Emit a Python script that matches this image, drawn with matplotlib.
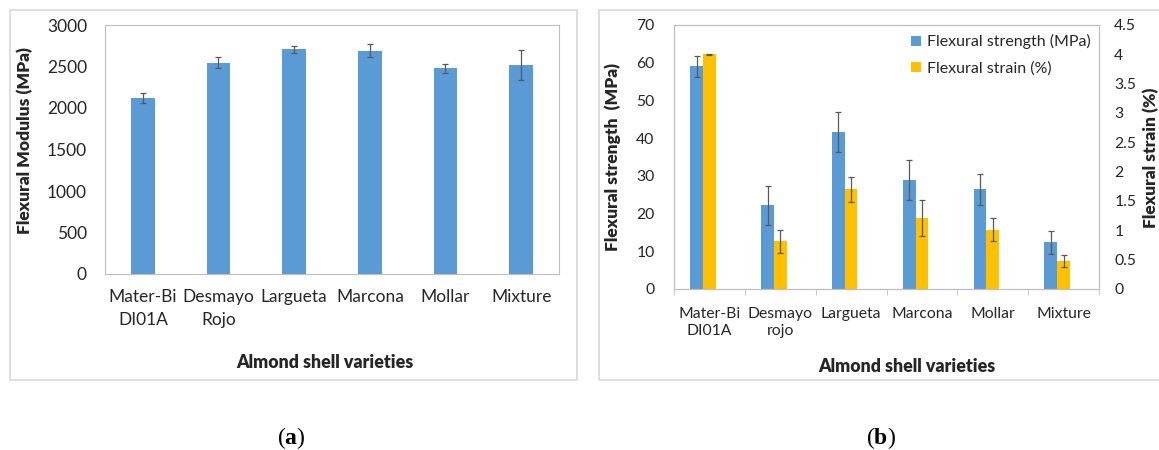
import numpy as np
import matplotlib
matplotlib.use("Agg")
import matplotlib.pyplot as plt
from matplotlib.patches import Rectangle

plt.rcParams["font.family"] = ["Lato", "DejaVu Sans"]
plt.rcParams["mathtext.fontset"] = "custom"
plt.rcParams["mathtext.bf"] = "Liberation Serif:bold"

# (a) flexural modulus per variety
modulus_labels = ["Mater-Bi\nDI01A", "Desmayo\nRojo", "Largueta", "Marcona", "Mollar", "Mixture"]
modulus = [2126, 2547, 2707, 2691, 2479, 2519]
modulus_err = [60, 66, 44, 78, 56, 184]

# (b) flexural strength and strain per variety
strength_labels = ["Mater-Bi\nDI01A", "Desmayo\nrojo", "Largueta", "Marcona", "Mollar", "Mixture"]
strength = [59.1, 22.2, 41.6, 28.9, 26.5, 12.4]
strength_err = [2.8, 5.1, 5.3, 5.3, 4.1, 3.0]
strain = [4.0, 0.81, 1.70, 1.21, 1.01, 0.48]
strain_err = [0.01, 0.20, 0.21, 0.30, 0.20, 0.10]

BLUE = "#5B9BD5"
GOLD = "#FFC000"
ERR = "#595959"
SPINE = "#BFBFBF"
FRAME = "#D9D9D9"
TXT = "#262626"
LABEL_W = "heavy"

fig = plt.figure(figsize=(11.59, 4.5), dpi=100)
W, H = 1159, 450


def fx(px):
    return px / W


def fy(py):
    return 1 - py / H


# chart frames
fig.patches.append(Rectangle((fx(10), fy(380)), fx(567), fy(10) - fy(380),
                             transform=fig.transFigure, fill=False,
                             edgecolor=FRAME, linewidth=1.2))
fig.patches.append(Rectangle((fx(599), fy(380)), fx(600), fy(10) - fy(380),
                             transform=fig.transFigure, fill=False,
                             edgecolor=FRAME, linewidth=1.2))

err_kw = dict(ecolor=ERR, elinewidth=0.9, capsize=2, capthick=0.9)

# ---- (a) ----
ax1 = fig.add_axes([fx(105), fy(274), fx(559 - 105), fy(25) - fy(274)])
x = np.arange(len(modulus))
ax1.bar(x, modulus, width=0.31, color=BLUE, yerr=modulus_err, error_kw=err_kw)
ax1.set_xlim(-0.5, len(modulus) - 0.5)
ax1.set_ylim(0, 3000)
ax1.set_yticks(np.arange(0, 3001, 500))
ax1.set_xticks(x)
ax1.set_xticklabels(modulus_labels, linespacing=1.55)
ax1.tick_params(axis="both", length=0, labelsize=12.5, colors=TXT)
ax1.tick_params(axis="x", pad=11)
ax1.tick_params(axis="y", pad=13)
for s in ax1.spines.values():
    s.set_color(SPINE)
fig.text(fx(25), fy(141), "Flexural Modulus (MPa)", rotation=90, ha="center",
         va="center", fontsize=12.5, fontweight=LABEL_W, color=TXT)
fig.text(fx(325), fy(363), "Almond shell varieties", ha="center", va="center",
         fontsize=12.8, fontweight=LABEL_W, color=TXT)

# ---- (b) ----
ax2 = fig.add_axes([fx(674), fy(289), fx(1099 - 674), fy(25) - fy(289)])
ax3 = ax2.twinx()
x = np.arange(len(strength))
bw = 0.18
ax2.bar(x - bw, strength, width=bw, color=BLUE, yerr=strength_err,
        error_kw=err_kw, label="Flexural strength (MPa)")
ax3.bar(x, strain, width=bw, color=GOLD, yerr=strain_err,
        error_kw=err_kw, label="Flexural strain (%)")
ax2.set_xlim(-0.5, len(strength) - 0.5)
ax2.set_ylim(0, 70)
ax3.set_ylim(0, 4.5)
ax2.set_yticks(np.arange(0, 71, 10))
ax3.set_yticks(np.arange(0, 4.51, 0.5))
ax3.set_yticklabels(["0", "0.5", "1", "1.5", "2", "2.5", "3", "3.5", "4", "4.5"])
ax2.set_xticks(x)
ax2.set_xticklabels(strength_labels, linespacing=1.25)
ax2.set_xticks(np.arange(-0.5, len(strength)), minor=True)
ax2.tick_params(axis="x", which="major", length=0, pad=13, labelsize=11.3, colors=TXT)
ax2.tick_params(axis="x", which="minor", length=4, color=SPINE)
ax2.tick_params(axis="y", length=0, pad=14, labelsize=11.3, colors=TXT)
ax3.tick_params(axis="y", length=0, pad=11, labelsize=11.3, colors=TXT)
for a in (ax2, ax3):
    for s in a.spines.values():
        s.set_color(SPINE)
fig.text(fx(613), fy(157), "Flexural strength  (MPa)", rotation=90, ha="center",
         va="center", fontsize=12.5, fontweight=LABEL_W, color=TXT)
fig.text(fx(1151), fy(158), "Flexural strain (%)", rotation=90, ha="center",
         va="center", fontsize=12.5, fontweight=LABEL_W, color=TXT)
fig.text(fx(907), fy(366), "Almond shell varieties", ha="center", va="center",
         fontsize=12.8, fontweight=LABEL_W, color=TXT)

h1, l1 = ax2.get_legend_handles_labels()
h2, l2 = ax3.get_legend_handles_labels()
leg = ax3.legend(h1 + h2, l1 + l2, loc="upper right", frameon=False, fontsize=11.5,
                 handlelength=0.65, handleheight=0.65, handletextpad=0.35,
                 labelspacing=0.75, borderaxespad=0,
                 bbox_to_anchor=(fx(1097), fy(28)), bbox_transform=fig.transFigure)
for t in leg.get_texts():
    t.set_color(TXT)

# panel captions
for cx, letter in ((291, "a"), (881, "b")):
    fig.text(fx(cx), fy(438), "(" + r"$\mathbf{" + letter + "}$" + ")",
             ha="center", va="center", fontsize=17, family="Liberation Serif")

fig.savefig("out.png", dpi=100)
